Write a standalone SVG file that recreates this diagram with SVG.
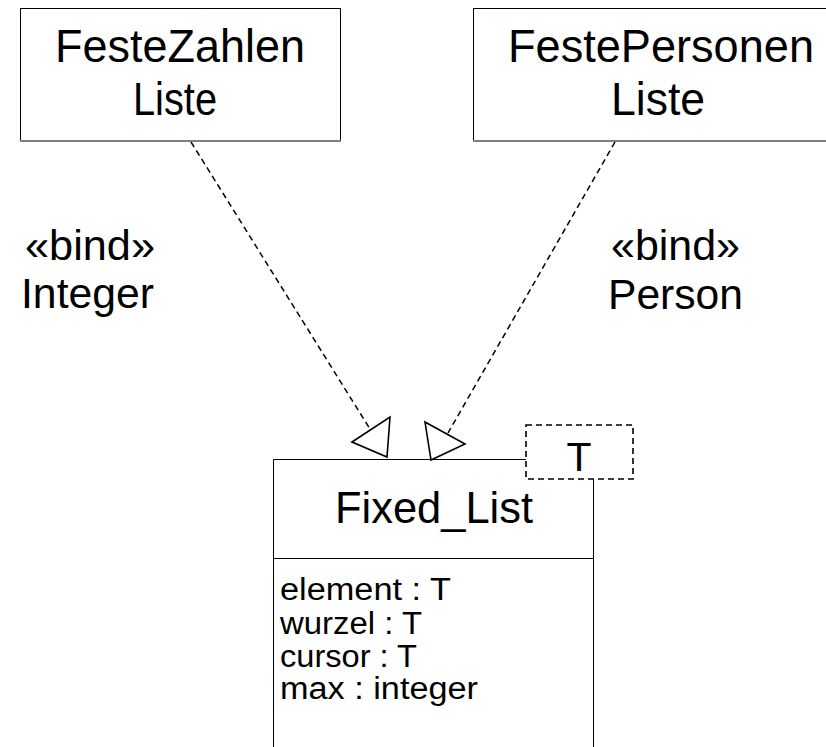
<svg xmlns="http://www.w3.org/2000/svg" width="826" height="747" viewBox="0 0 826 747">
  <style>
    .box { fill: #ffffff; stroke: #000000; stroke-width: 1; }
    .shade { stroke: #808080; stroke-width: 2; }
    .lbl { font-family: "Liberation Sans", Arial, sans-serif; fill: #000000; }
    .big { font-size: 46px; text-anchor: middle; }
    .mid { font-size: 42px; }
    .attr { font-size: 31px; }
    .dep { fill: none; stroke: #000000; stroke-width: 1.5; stroke-dasharray: 6 4; }
    .head { fill: #ffffff; stroke: #000000; stroke-width: 1.6; stroke-linejoin: miter; }
    .param { fill: #ffffff; stroke: #000000; stroke-width: 1.6; stroke-dasharray: 6 4; }
  </style>
  <rect width="826" height="747" fill="#ffffff"/>

  <g id="FesteZahlenListe">
    <rect class="box" x="20.5" y="8.5" width="320" height="132"/>
    <line class="shade" x1="20" y1="141" x2="341" y2="141"/>
    <text class="lbl big" x="180" y="62" textLength="250" lengthAdjust="spacingAndGlyphs">FesteZahlen</text>
    <text class="lbl big" x="175" y="115" textLength="84" lengthAdjust="spacingAndGlyphs">Liste</text>
  </g>

  <g id="FestePersonenListe">
    <rect class="box" x="473.5" y="8.5" width="380" height="132"/>
    <line class="shade" x1="473" y1="141" x2="826" y2="141"/>
    <text class="lbl big" x="661" y="62" textLength="306" lengthAdjust="spacingAndGlyphs">FestePersonen</text>
    <text class="lbl big" x="658" y="115" textLength="94" lengthAdjust="spacingAndGlyphs">Liste</text>
  </g>

  <g id="FixedList">
    <path class="box" d="M526,459.5 H273.5 V760 H593.5 V479" />
    <line x1="273" y1="558.5" x2="593" y2="558.5" stroke="#000000" stroke-width="1"/>
    <text class="lbl big" x="434" y="523" textLength="198" lengthAdjust="spacingAndGlyphs" style="font-size:44px">Fixed_List</text>
    <text class="lbl attr" x="280" y="600" textLength="171" lengthAdjust="spacingAndGlyphs">element : T</text>
    <text class="lbl attr" x="280" y="634" textLength="142" lengthAdjust="spacingAndGlyphs">wurzel : T</text>
    <text class="lbl attr" x="280" y="667" textLength="137" lengthAdjust="spacingAndGlyphs">cursor : T</text>
    <text class="lbl attr" x="280" y="699" textLength="198" lengthAdjust="spacingAndGlyphs">max : integer</text>
  </g>

  <g id="TemplateParameter">
    <rect class="param" x="526" y="425" width="107" height="54"/>
    <text class="lbl big" x="579" y="471" style="font-size:41px">T</text>
  </g>

  <g id="connectors">
    <line class="dep" x1="191" y1="142" x2="370" y2="429"/>
    <polygon class="head" points="352,442 390,417 387,457"/>
    <line class="dep" x1="615" y1="142" x2="448" y2="433"/>
    <polygon class="head" points="425,422 465,444 431,460"/>
  </g>

  <g id="bindLabels">
    <text class="lbl mid" x="25" y="260" textLength="130" lengthAdjust="spacingAndGlyphs">«bind»</text>
    <text class="lbl mid" x="21" y="308" textLength="133" lengthAdjust="spacingAndGlyphs">Integer</text>
    <text class="lbl mid" x="611" y="260" textLength="129" lengthAdjust="spacingAndGlyphs">«bind»</text>
    <text class="lbl mid" x="608" y="309" textLength="135" lengthAdjust="spacingAndGlyphs">Person</text>
  </g>
</svg>
